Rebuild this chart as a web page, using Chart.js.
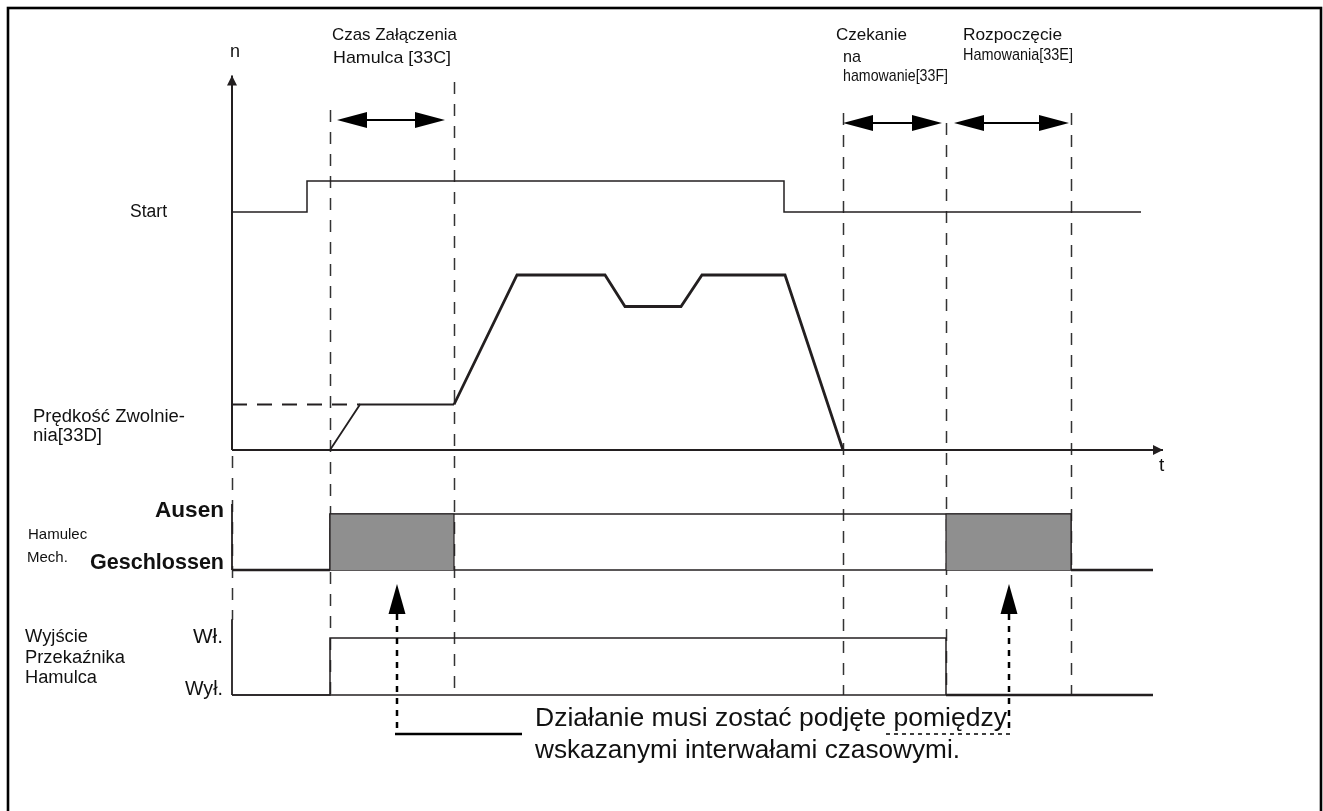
<!DOCTYPE html>
<html>
<head>
<meta charset="utf-8">
<script src="https://cdn.jsdelivr.net/npm/chart.js@4.4.1/dist/chart.umd.min.js"></script>
<style>
  html, body { margin: 0; padding: 0; background: #fff; }
  #wrap { width: 1323px; height: 811px; position: relative; }
</style>
</head>
<body>
<div id="wrap"><canvas id="timing"></canvas></div>
<script>
// time in drawing units, 0 = origin of the n / t axes
const eventTimes = [0, 9.8, 22.2, 61.1, 71.4, 83.9];

// Start command (0 = low, 1 = high)
const startTimes = [0, 7.5, 7.5, 55.2, 55.2, 90.9];
const startLevels = [0, 0, 1, 1, 0, 0];

// speed n, % of max speed
const releaseSpeed = 26;
const creepTimes = [9.8, 12.8, 22.2];
const creepSpeed = [0, 26, 26];
const speedTimes = [22.2, 28.5, 37.3, 39.3, 44.9, 47.0, 55.3, 61.1];
const speedValues = [26, 100, 100, 82, 82, 100, 100, 0];
const speedAxisTop = 214;
const timeAxisEnd = 93.1;

// mechanical brake (0 = Geschlossen, 1 = Ausen)
const brakeTimes = [0, 9.8, 9.8, 83.9, 83.9, 92.1];
const brakeLevels = [0, 0, 1, 1, 0, 0];
const brakeWindows = [[9.8, 22.2], [71.4, 83.9]];

// brake relay output (0 = Wył., 1 = Wł.)
const relayTimes = [0, 9.8, 9.8, 71.4, 71.4, 92.1];
const relayLevels = [0, 0, 1, 1, 0, 0];

// double arrows above the timing windows
const spanArrows = [[10.5, 21.3], [61.1, 71.0], [72.2, 83.7]];
// "action must be taken" pointers: arrow time, end of the leader line
const notePointers = [[16.5, 29.0], [77.7, 65.1]];

const W = 1323, H = 811;
const ink = '#231f20';
const font = '"Liberation Sans", Arial, sans-serif';

// axis range that puts value a at pixel pa and value b at pixel pb
function placeX(a, pa, b, pb) {
  const range = (b - a) * W / (pb - pa);
  const min = a - range * pa / W;
  return { min: min, max: min + range };
}
function placeY(a, pa, b, pb) {
  const range = (b - a) * H / (pa - pb);
  const max = a + range * pa / H;
  return { min: max - range, max: max };
}

function series(xs, ys, axis, width, extra) {
  return Object.assign({
    data: xs.map((t, i) => ({ x: t, y: ys[i] })),
    yAxisID: axis,
    showLine: true,
    borderColor: ink,
    borderWidth: width,
    pointRadius: 0,
    fill: false,
    borderJoinStyle: 'miter'
  }, extra || {});
}

const lowThick = {
  segment: {
    borderWidth: c => (c.p0.parsed.y === 0 && c.p1.parsed.y === 0 && (c.p0DataIndex === 0 || c.p1DataIndex === c.chart.data.datasets[c.datasetIndex].data.length - 1)) ? 2.6 : 1.5
  }
};

const datasets = [];
brakeWindows.forEach(w => {
  datasets.push(series([w[0], w[0], w[1], w[1]], [0, 1, 1, 0], 'yBrake', 1.2,
    { fill: { value: 0 }, backgroundColor: '#8f8f8f' }));
});
datasets.push(series(brakeTimes, brakeLevels, 'yBrake', 1.5, lowThick));
datasets.push(series([brakeTimes[1], brakeTimes[3]], [0, 0], 'yBrake', 1.5));
datasets.push(series([0, 0], [0, 1.18], 'yBrake', 1.8));

datasets.push(series(relayTimes, relayLevels, 'yRelay', 1.5, {
  segment: { borderWidth: c => c.p0DataIndex === relayTimes.length - 2 ? 2.6 : 1.5 }
}));
datasets.push(series([0, relayTimes[3]], [0, 0], 'yRelay', 1.5));
datasets.push(series([0, 0], [0, 1.33], 'yRelay', 1.8));

datasets.push(series(startTimes, startLevels, 'yStart', 1.5));
datasets.push(series([0, creepTimes[1]], [releaseSpeed, releaseSpeed], 'ySpeed', 1.8, { borderDash: [15, 10] }));
datasets.push(series(creepTimes, creepSpeed, 'ySpeed', 1.8));
datasets.push(series(speedTimes, speedValues, 'ySpeed', 2.8));
datasets.push(series([0, 0], [0, speedAxisTop], 'ySpeed', 2));
datasets.push(series([0, timeAxisEnd], [0, 0], 'ySpeed', 2));

function tri(c, x, y, dx, dy, len, half) {
  // tip at (x,y), pointing along (dx,dy)
  const bx = x - dx * len, by = y - dy * len;
  c.beginPath();
  c.moveTo(x, y);
  c.lineTo(bx - dy * half, by + dx * half);
  c.lineTo(bx + dy * half, by - dx * half);
  c.closePath();
  c.fill();
}

function label(c, m) {
  c.save();
  c.font = (m.f.indexOf('bold') === 0 ? m.f : m.f) + ' ' + font;
  const w = c.measureText(m.s).width;
  c.translate(m.x, m.y);
  c.scale(m.w ? m.w / w : 1, 1);
  c.textAlign = m.a || 'left';
  c.textBaseline = 'alphabetic';
  c.fillStyle = '#111';
  c.fillText(m.s, 0, 0);
  c.restore();
}

const textMarks = [
  { s: 'n', x: 230, y: 57, f: '18px', w: 10 },
  { s: 'Czas Załączenia', x: 332, y: 40, f: '17px', w: 125 },
  { s: 'Hamulca [33C]', x: 333, y: 63, f: '17px', w: 118 },
  { s: 'Czekanie', x: 836, y: 40, f: '17px', w: 71 },
  { s: 'na', x: 843, y: 62, f: '17px', w: 18 },
  { s: 'hamowanie[33F]', x: 843, y: 81, f: '17px', w: 105 },
  { s: 'Rozpoczęcie', x: 963, y: 40, f: '17px', w: 99 },
  { s: 'Hamowania[33E]', x: 963, y: 60, f: '17px', w: 110 },
  { s: 'Start', x: 130, y: 217, f: '18px', w: 37 },
  { s: 'Prędkość Zwolnie-', x: 33, y: 422, f: '18px', w: 152 },
  { s: 'nia[33D]', x: 33, y: 441, f: '18px', w: 69 },
  { s: 'Ausen', x: 224, y: 517, f: 'bold 22px', w: 69, a: 'right' },
  { s: 'Hamulec', x: 28, y: 539, f: '15px' },
  { s: 'Mech.', x: 27, y: 562, f: '15px' },
  { s: 'Geschlossen', x: 224, y: 569, f: 'bold 22px', w: 134, a: 'right' },
  { s: 'Wyjście', x: 25, y: 642, f: '18px', w: 63 },
  { s: 'Przekaźnika', x: 25, y: 663, f: '18px', w: 100 },
  { s: 'Hamulca', x: 25, y: 683, f: '18px', w: 72 },
  { s: 'Wł.', x: 223, y: 643, f: '20px', w: 30, a: 'right' },
  { s: 'Wył.', x: 223, y: 695, f: '20px', w: 38, a: 'right' },
  { s: 't', x: 1159, y: 471, f: '19px' },
  { s: 'Działanie musi zostać podjęte pomiędzy', x: 535, y: 726, f: '25px', w: 472 },
  { s: 'wskazanymi interwałami czasowymi.', x: 535, y: 758, f: '25px', w: 425 }
];

const eventTops = [456, 110, 82, 113, 123, 113];
const arrowRows = [120, 123, 123];

const timingPlugin = {
  id: 'timing',
  beforeDraw(chart) {
    const c = chart.ctx, x = chart.scales.x, yR = chart.scales.yRelay;
    c.save();
    c.strokeStyle = '#000';
    c.lineWidth = 2.6;
    c.strokeRect(8, 8, 1313, 900);

    c.strokeStyle = '#333';
    c.lineWidth = 1.5;
    c.setLineDash([12, 10]);
    eventTimes.forEach((t, i) => {
      const px = Math.round(x.getPixelForValue(t)) + 0.5;
      const bottom = i === 0 ? 620 : yR.getPixelForValue(0);
      c.beginPath();
      c.moveTo(px, eventTops[i]);
      c.lineTo(px, bottom);
      c.stroke();
    });
    c.restore();
  },
  afterDraw(chart) {
    const c = chart.ctx, x = chart.scales.x, yS = chart.scales.ySpeed;
    c.save();
    c.fillStyle = ink;
    c.strokeStyle = ink;

    // axis arrow heads
    tri(c, x.getPixelForValue(0), yS.getPixelForValue(speedAxisTop), 0, -1, 10, 5);
    tri(c, x.getPixelForValue(timeAxisEnd), yS.getPixelForValue(0), 1, 0, 10, 5);

    // double arrows
    c.fillStyle = '#000';
    c.strokeStyle = '#000';
    spanArrows.forEach((s, i) => {
      const a = x.getPixelForValue(s[0]), b = x.getPixelForValue(s[1]), y = arrowRows[i];
      c.lineWidth = 2;
      c.beginPath();
      c.moveTo(a + 20, y);
      c.lineTo(b - 20, y);
      c.stroke();
      tri(c, a, y, -1, 0, 30, 8);
      tri(c, b, y, 1, 0, 30, 8);
    });

    // pointers to the brake windows
    notePointers.forEach((p, i) => {
      const px = x.getPixelForValue(p[0]), ex = x.getPixelForValue(p[1]);
      tri(c, px, 584, 0, -1, 30, 8.5);
      c.lineWidth = 2.5;
      c.setLineDash([6, 6]);
      c.beginPath();
      c.moveTo(px, 614);
      c.lineTo(px, 734);
      c.stroke();
      if (i === 0) {
        c.setLineDash([]);
        c.lineWidth = 2.5;
      } else {
        c.setLineDash([4, 4]);
        c.lineWidth = 1.5;
      }
      c.beginPath();
      c.moveTo(px - (i === 0 ? 2 : -1), 734);
      c.lineTo(ex, 734);
      c.stroke();
      c.setLineDash([]);
    });

    textMarks.forEach(m => label(c, m));
    c.restore();
  }
};

const xr = placeX(0, 232, 10, 332);
new Chart(document.getElementById('timing'), {
  type: 'scatter',
  data: { datasets: datasets },
  options: {
    responsive: true,
    maintainAspectRatio: false,
    animation: false,
    events: [],
    layout: { padding: 0 },
    plugins: { legend: { display: false }, tooltip: { enabled: false } },
    scales: {
      x: Object.assign({ type: 'linear', display: false }, xr),
      y: { type: 'linear', display: false },
      ySpeed: Object.assign({ type: 'linear', display: false }, placeY(0, 450, 100, 275)),
      yStart: Object.assign({ type: 'linear', display: false }, placeY(0, 212, 1, 181)),
      yBrake: Object.assign({ type: 'linear', display: false }, placeY(0, 570, 1, 514)),
      yRelay: Object.assign({ type: 'linear', display: false }, placeY(0, 695, 1, 638))
    }
  },
  plugins: [timingPlugin]
});
</script>
</body>
</html>
